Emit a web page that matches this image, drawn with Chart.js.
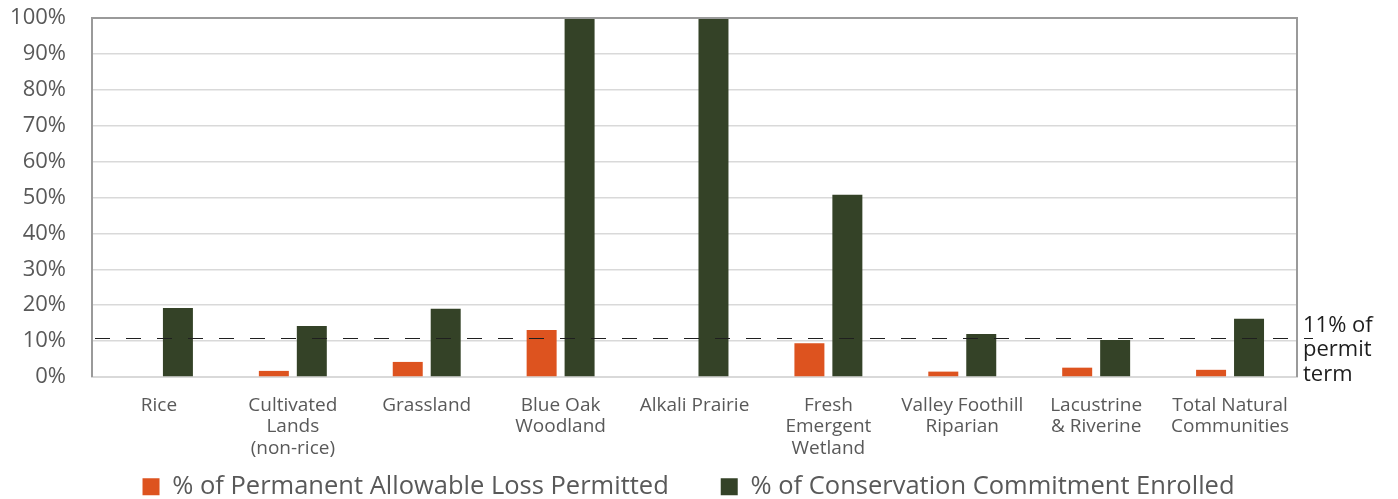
<!DOCTYPE html>
<html>
<head>
<meta charset="utf-8">
<script src="https://cdn.jsdelivr.net/npm/chart.js@4"></script>
<style>
  html, body { margin: 0; padding: 0; background: #ffffff; }
  #wrap { width: 1398px; height: 499px; }
</style>
</head>
<body>
<div id="wrap"><canvas id="chart" width="1398" height="499"></canvas></div>
<script>
// Habitat categories (multi-line axis labels)
const categories = [
  ['Rice'],
  ['Cultivated', 'Lands', '(non-rice)'],
  ['Grassland'],
  ['Blue Oak', 'Woodland'],
  ['Alkali Prairie'],
  ['Fresh', 'Emergent', 'Wetland'],
  ['Valley Foothill', 'Riparian'],
  ['Lacustrine', '& Riverine'],
  ['Total Natural', 'Communities']
];

// Percent of permanent allowable loss permitted
const lossPermitted = [0, 1.7, 4.2, 13.1, 0, 9.4, 1.5, 2.6, 2.0];

// Percent of conservation commitment enrolled
const conservationEnrolled = [19.2, 14.2, 19.0, 100, 100, 50.8, 12.0, 10.3, 16.2];

// Elapsed share of the permit term (reference line)
const permitTermPct = 11;
const permitTermLabel = ['11% of', 'permit', 'term'];

const seriesNames = ['% of Permanent Allowable Loss Permitted', '% of Conservation Commitment Enrolled'];
const yTicks = [0, 10, 20, 30, 40, 50, 60, 70, 80, 90, 100];

const FONT = '"Open Sans", Lato, sans-serif';
const ORANGE = '#DD531F';
const GREEN = '#344227';

// Let the multi-line category labels run below the axis box,
// and centre the legend row under the whole figure width.
const layoutTweaks = {
  id: 'layoutTweaks',
  afterLayout(chart) {
    const x = chart.scales.x;
    x.bottom = chart.height;
    const lg = chart.legend;
    if (lg) {
      lg.left = 0;
      lg.right = 1377;
      lg.width = lg.right - lg.left;
    }
  }
};

// Frame, dashed permit-term line and its label
const framePlugin = {
  id: 'frameAndTerm',
  afterDatasetsDraw(chart) {
    const { ctx, chartArea: a, scales: { y } } = chart;
    ctx.save();
    // dashed reference line
    const yy = Math.round(y.getPixelForValue(permitTermPct)) + 0.5;
    ctx.strokeStyle = '#1f1f1f';
    ctx.lineWidth = 1.2;
    ctx.setLineDash([15, 16]);
    ctx.beginPath();
    ctx.moveTo(a.left + 3, yy);
    ctx.lineTo(a.right + 16, yy);
    ctx.stroke();
    ctx.setLineDash([]);
    // frame: left, top, right
    ctx.strokeStyle = '#9a9a9a';
    ctx.lineWidth = 2;
    ctx.beginPath();
    ctx.moveTo(a.left, a.bottom);
    ctx.lineTo(a.left, a.top);
    ctx.lineTo(a.right, a.top);
    ctx.lineTo(a.right, a.bottom);
    ctx.stroke();
    // label
    ctx.fillStyle = '#1e1e1e';
    ctx.font = '22px ' + FONT;
    ctx.textAlign = 'left';
    ctx.textBaseline = 'alphabetic';
    permitTermLabel.forEach((t, i) => {
      ctx.fillText(t, a.right + 6, yy - 7 + i * 24.5);
    });
    ctx.restore();
  }
};

new Chart(document.getElementById('chart'), {
  type: 'bar',
  data: {
    labels: categories,
    datasets: [
      {
        label: seriesNames[0],
        data: lossPermitted,
        backgroundColor: ORANGE,
        categoryPercentage: 0.567,
        barPercentage: 0.79
      },
      {
        label: seriesNames[1],
        data: conservationEnrolled,
        backgroundColor: GREEN,
        categoryPercentage: 0.567,
        barPercentage: 0.79
      }
    ]
  },
  options: {
    responsive: false,
    animation: false,
    layout: { padding: { top: 18, right: 101, left: 0, bottom: -10.5 } },
    plugins: {
      legend: {
        position: 'bottom',
        labels: {
          font: { family: FONT, size: 25.5 },
          color: '#595959',
          boxWidth: 17,
          boxHeight: 17,
          padding: 52
        }
      },
      tooltip: { enabled: false }
    },
    scales: {
      x: {
        grid: { display: false, drawTicks: false },
        border: { display: true, color: '#d9d9d9', width: 2 },
        ticks: {
          font: { family: FONT, size: 19, lineHeight: 1.12 },
          color: '#595959',
          padding: 18,
          maxRotation: 0,
          autoSkip: false
        },
        afterFit(scale) { scale.height = 45; }
      },
      y: {
        min: 0,
        max: 100,
        afterBuildTicks(scale) { scale.ticks = yTicks.map(v => ({ value: v })); },
        grid: { color: '#d9d9d9', lineWidth: 1.5, drawTicks: false },
        border: { display: false },
        ticks: {
          font: { family: FONT, size: 22 },
          color: '#595959',
          padding: 26,
          callback: v => v + '%'
        },
        afterFit(scale) {
          scale.width = 92;
          scale.paddingTop = 0;
          scale.paddingBottom = 0;
        }
      }
    }
  },
  plugins: [layoutTweaks, framePlugin]
});
</script>
</body>
</html>
